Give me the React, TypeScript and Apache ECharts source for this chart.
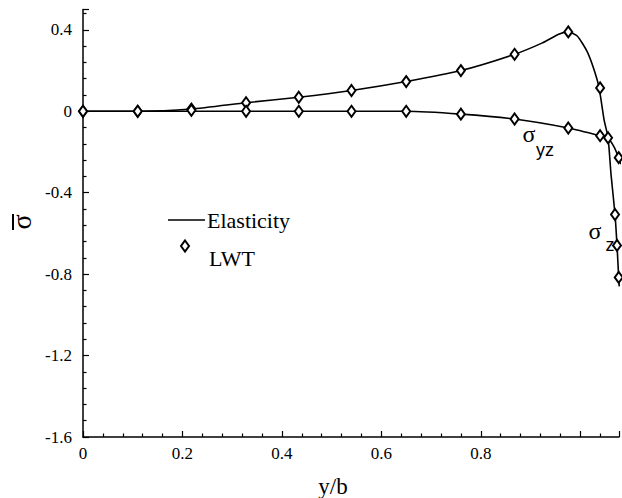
import React, { useEffect, useRef } from "react";
import * as echarts from "echarts";

// Elasticity solution, sigma_z (upper curve)
const elasticityZX = [0, 0.11, 0.218, 0.328, 0.434, 0.54, 0.65, 0.76, 0.868, 0.924, 0.958, 0.976, 0.994, 1.014, 1.028, 1.038, 1.048, 1.056, 1.062, 1.07, 1.074, 1.0774, 1.0785];
const elasticityZY = [0, 0, 0.011, 0.042, 0.069, 0.102, 0.146, 0.2, 0.28, 0.336, 0.38, 0.39, 0.37, 0.293, 0.203, 0.115, -0.042, -0.13, -0.311, -0.507, -0.659, -0.816, -0.86];

// Elasticity solution, sigma_yz (lower curve)
const elasticityYZX = [0, 0.11, 0.218, 0.328, 0.434, 0.54, 0.65, 0.76, 0.868, 0.976, 1.04, 1.056, 1.068, 1.0774, 1.082];
const elasticityYZY = [0, 0, 0, 0, 0, 0, 0, -0.014, -0.038, -0.082, -0.12, -0.132, -0.175, -0.228, -0.26];

// LWT points, sigma_z
const lwtZX = [0, 0.11, 0.218, 0.328, 0.434, 0.54, 0.65, 0.76, 0.868, 0.976, 1.04, 1.056, 1.07, 1.074, 1.0774];
const lwtZY = [0, 0, 0.011, 0.042, 0.069, 0.102, 0.146, 0.2, 0.28, 0.39, 0.115, -0.13, -0.507, -0.659, -0.816];

// LWT points, sigma_yz
const lwtYZX = [0, 0.11, 0.218, 0.328, 0.434, 0.54, 0.65, 0.76, 0.868, 0.976, 1.04, 1.0774];
const lwtYZY = [0, 0, 0.005, 0, 0, 0, 0, -0.014, -0.038, -0.082, -0.12, -0.228];

const xMin = 0;
const xMax = 1.078;
const xInterval = 0.2;
const yMin = -1.6;
const yMax = 0.5;
const yInterval = 0.4;

const legendLabels = ["Elasticity", "LWT"];
const xName = "y/b";

const zip = (xs: number[], ys: number[]) => xs.map((x, i) => [x, ys[i]]);

const SERIF = "'Liberation Serif', 'Times New Roman', serif";
const SANS = "'Liberation Sans', Arial, sans-serif";

export default function App() {
  const ref = useRef<HTMLDivElement>(null);
  useEffect(() => {
    if (!ref.current) return;
    const chart = echarts.init(ref.current, null, { renderer: "svg" });
    const axisCommon = {
      axisLine: { show: true, onZero: false, lineStyle: { color: "#000", width: 1.5 } },
      axisTick: { show: true, inside: true, length: 6, lineStyle: { color: "#000", width: 1.2 } },
      minorTick: { show: true, splitNumber: 5, length: 3.5, lineStyle: { color: "#000", width: 1.2 } },
      splitLine: { show: false },
      minorSplitLine: { show: false },
    };
    chart.setOption({
      animation: false,
      backgroundColor: "#fff",
      grid: { left: 83, right: 0, top: 9.5, bottom: 61, containLabel: false },
      xAxis: {
        type: "value",
        min: xMin,
        max: xMax,
        interval: xInterval,
        ...axisCommon,
        axisLabel: {
          color: "#000",
          fontFamily: SERIF,
          fontSize: 17,
          margin: 8,
          formatter: (v: number) => {
            if (v > 0.99) return "";
            const r = Math.round(v * 10) / 10;
            return r === 0 ? "0" : String(r);
          },
        },
      },
      yAxis: {
        type: "value",
        min: yMin,
        max: yMax,
        interval: yInterval,
        ...axisCommon,
        axisLabel: {
          color: "#000",
          fontFamily: SERIF,
          fontSize: 17,
          margin: 11,
          formatter: (v: number) => {
            if (v > 0.45) return "";
            const r = Math.round(v * 10) / 10;
            return r === 0 ? "0" : r.toFixed(1);
          },
        },
      },
      series: [
        {
          type: "line",
          name: legendLabels[0],
          data: zip(elasticityZX, elasticityZY),
          showSymbol: false,
          smooth: 0.2,
          clip: true,
          lineStyle: { color: "#000", width: 1.6 },
          z: 2,
        },
        {
          type: "line",
          name: legendLabels[0],
          data: zip(elasticityYZX, elasticityYZY),
          showSymbol: false,
          smooth: 0.2,
          clip: true,
          lineStyle: { color: "#000", width: 1.6 },
          z: 2,
        },
        {
          type: "scatter",
          name: legendLabels[1],
          data: zip(lwtZX, lwtZY),
          symbol: "diamond",
          symbolSize: [8, 11],
          clip: false,
          itemStyle: { color: "#fff", borderColor: "#000", borderWidth: 2, opacity: 1 },
          z: 3,
        },
        {
          type: "scatter",
          name: legendLabels[1],
          data: zip(lwtYZX, lwtYZY),
          symbol: "diamond",
          symbolSize: [8, 11],
          clip: false,
          itemStyle: { color: "#fff", borderColor: "#000", borderWidth: 2, opacity: 1 },
          z: 3,
        },
      ],
      graphic: [
        // legend
        { type: "line", shape: { x1: 168, y1: 220, x2: 205, y2: 220 }, style: { stroke: "#000", lineWidth: 1.6 } },
        { type: "text", x: 207, y: 220, style: { text: legendLabels[0], fontFamily: SERIF, fontSize: 22, fill: "#000", verticalAlign: "middle", align: "left" } },
        { type: "polygon", shape: { points: [[185, 240.5], [189, 246], [185, 251.5], [181, 246]] }, style: { fill: "#fff", stroke: "#000", lineWidth: 2 } },
        { type: "text", x: 209, y: 258, style: { text: legendLabels[1], fontFamily: SERIF, fontSize: 22, fill: "#000", verticalAlign: "middle", align: "left" } },
        // curve labels
        { type: "text", x: 529, y: 134, style: { text: "σ", fontFamily: SERIF, fontSize: 24, fill: "#000", align: "center", verticalAlign: "middle" } },
        { type: "text", x: 545, y: 150, style: { text: "yz", fontFamily: SANS, fontSize: 18, fill: "#000", align: "center", verticalAlign: "middle" } },
        { type: "text", x: 595, y: 231, style: { text: "σ", fontFamily: SERIF, fontSize: 24, fill: "#000", align: "center", verticalAlign: "middle" } },
        { type: "text", x: 610, y: 245, style: { text: "z", fontFamily: SANS, fontSize: 18, fill: "#000", align: "center", verticalAlign: "middle" } },
        // x axis name
        { type: "text", x: 333, y: 486, style: { text: xName, fontFamily: SERIF, fontSize: 23, fill: "#000", align: "center", verticalAlign: "middle" } },
        // y axis name: sigma with overbar, rotated
        {
          type: "group",
          x: 24,
          y: 222,
          rotation: Math.PI / 2,
          children: [
            { type: "text", x: 0, y: -3, style: { text: "σ", fontFamily: SERIF, fontSize: 28, fill: "#000", align: "center", verticalAlign: "middle" } },
            { type: "line", shape: { x1: -8, y1: -11, x2: 8, y2: -11 }, style: { stroke: "#000", lineWidth: 2 } },
          ],
        },
      ],
    });
    return () => chart.dispose();
  }, []);
  return <div ref={ref} style={{ position: "absolute", left: 0, top: 0, width: 622, height: 498 }} />;
}
